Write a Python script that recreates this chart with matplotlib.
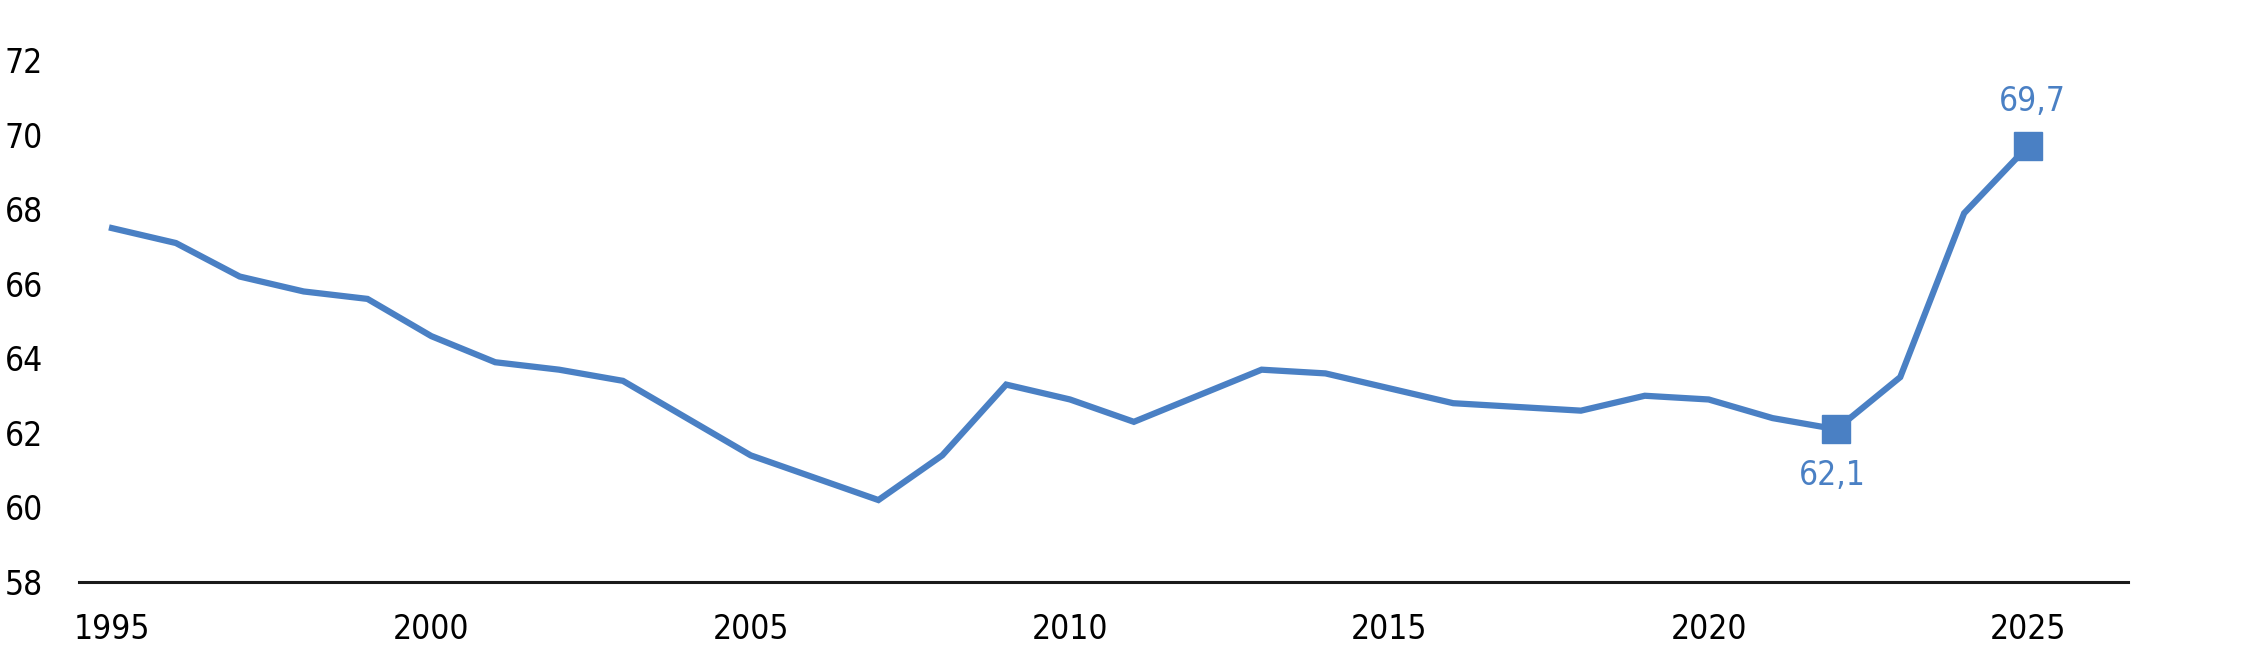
import matplotlib
matplotlib.use("Agg")
import matplotlib.pyplot as plt

years = list(range(1995, 2026))
values = [67.5, 67.1, 66.2, 65.8, 65.6, 64.6, 63.9, 63.7, 63.4, 62.4,
          61.4, 60.8, 60.2, 61.4, 63.3, 62.9, 62.3, 63.0, 63.7, 63.6,
          63.2, 62.8, 62.7, 62.6, 63.0, 62.9, 62.4, 62.1, 63.5, 67.9, 69.7]
highlight_years = [2022, 2025]
highlight_labels = ["62,1", "69,7"]
xticks = [1995, 2000, 2005, 2010, 2015, 2020, 2025]
yticks = [58, 60, 62, 64, 66, 68, 70, 72]

blue = "#4a80c4"
font = dict(family="DejaVu Sans", fontstretch="condensed")

fig = plt.figure(figsize=(22.58, 6.57), dpi=100)
ax = fig.add_axes([79 / 2258, 1 - 582 / 657, (2128 - 79) / 2258, (582 - 60.5) / 657])

ax.plot(years, values, color=blue, lw=4.5, solid_joinstyle="miter", zorder=2)
hv = [values[years.index(y)] for y in highlight_years]
ax.plot(highlight_years, hv, ls="none", marker="s", ms=20, color=blue, zorder=3)

ax.annotate(highlight_labels[0], (highlight_years[0], hv[0]), xytext=(-3, -33),
            textcoords="offset points", ha="center", va="center",
            color=blue, fontsize=24, **font)
ax.annotate(highlight_labels[1], (highlight_years[1], hv[1]), xytext=(3, 32),
            textcoords="offset points", ha="center", va="center",
            color=blue, fontsize=24, **font)

ax.set_xlim(1994.483, 2026.566)
ax.set_ylim(58, 72)
ax.set_xticks(xticks)
ax.set_yticks(yticks)
ax.set_xticklabels([str(x) for x in xticks], fontsize=24, **font)
ax.set_yticklabels([str(y) for y in yticks], fontsize=24, **font)
ax.tick_params(axis="both", length=0)
ax.tick_params(axis="x", pad=22)
ax.tick_params(axis="y", pad=26)

for s in ["top", "right", "left"]:
    ax.spines[s].set_visible(False)
ax.spines["bottom"].set_linewidth(2.2)
ax.spines["bottom"].set_color("#1a1a1a")
ax.patch.set_alpha(0)

fig.savefig("out.png", dpi=100, facecolor="white")
